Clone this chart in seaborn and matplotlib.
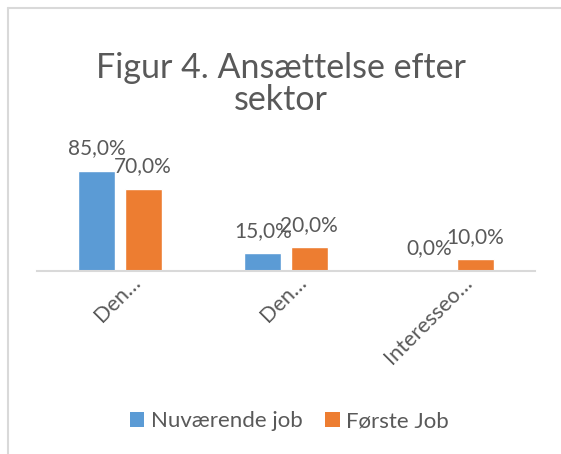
import pandas as pd
import matplotlib.pyplot as plt
import seaborn as sns
from matplotlib.lines import Line2D
from matplotlib.patches import Patch
from matplotlib.transforms import ScaledTranslation

# data
sectors = ["Den offentlige sektor", "Den private sektor", "Interesseorganisation"]
tick_labels = ["Den…", "Den…", "Interesseo…"]
series = ["Nuværende job", "Første Job"]
nuvaerende = [0.85, 0.15, 0.0]
forste = [0.70, 0.20, 0.10]
colors = ["#5B9BD5", "#ED7D31"]
text_color = "#595959"
grid_color = "#D9D9D9"

df = pd.DataFrame({
    "sektor": sectors * 2,
    "job": [series[0]] * 3 + [series[1]] * 3,
    "andel": nuvaerende + forste,
})

sns.set_style("white")
plt.rcParams['font.family'] = ['Lato', 'DejaVu Sans']

fig = plt.figure(figsize=(5.61, 4.54), dpi=100)
ax = fig.add_axes([37 / 561, 1 - 271 / 454, 498 / 561, 106 / 454])

sns.barplot(data=df, x="sektor", y="andel", hue="job", order=sectors,
            hue_order=series, palette=colors, width=0.56, gap=0.2,
            saturation=1, legend=False, ax=ax)

for cont in ax.containers:
    labels = [f"{b.get_height() * 100:.1f}%".replace(".", ",") for b in cont]
    ax.bar_label(cont, labels=labels, padding=9, fontsize=15,
                 color=text_color, clip_on=False)

ax.set_ylim(0, 0.9)
ax.set_xlim(-0.5, 2.5)
ax.set_xlabel("")
ax.set_ylabel("")
ax.set_yticks([])
ax.set_xticks(range(len(sectors)))
ax.set_xticklabels(tick_labels, rotation=45, ha="right", va="center",
                   rotation_mode="anchor", fontsize=15.5, color=text_color)
ax.tick_params(axis="x", length=0, pad=6)
shift = ScaledTranslation(17 / 100, 0, fig.dpi_scale_trans)
for lab in ax.get_xticklabels():
    lab.set_transform(lab.get_transform() + shift)

for side in ["top", "right", "left"]:
    ax.spines[side].set_visible(False)
ax.spines["bottom"].set_color(grid_color)
ax.spines["bottom"].set_linewidth(1.5)

fig.text(0.5, 1 - 52 / 454, "Figur 4. Ansættelse efter\nsektor", ha="center",
         va="top", fontsize=24.5, color=text_color, linespacing=1.0)

handles = [Patch(facecolor=c, edgecolor="none") for c in colors]
fig.legend(handles, series, loc="center",
           bbox_to_anchor=(0.5 + 9 / 561, 1 - 421 / 454),
           ncol=2, frameon=False, fontsize=16, handlelength=0.65,
           handleheight=0.65, handletextpad=0.3, columnspacing=1.0,
           labelcolor=text_color)

# chart frame (only left and top edges are visible in the crop)
fig.add_artist(Line2D([8 / 561, 8 / 561], [0, 1 - 8 / 454], color=grid_color, lw=1.5))
fig.add_artist(Line2D([8 / 561, 1], [1 - 8 / 454, 1 - 8 / 454], color=grid_color, lw=1.5))

fig.savefig("out.png", dpi=100)
